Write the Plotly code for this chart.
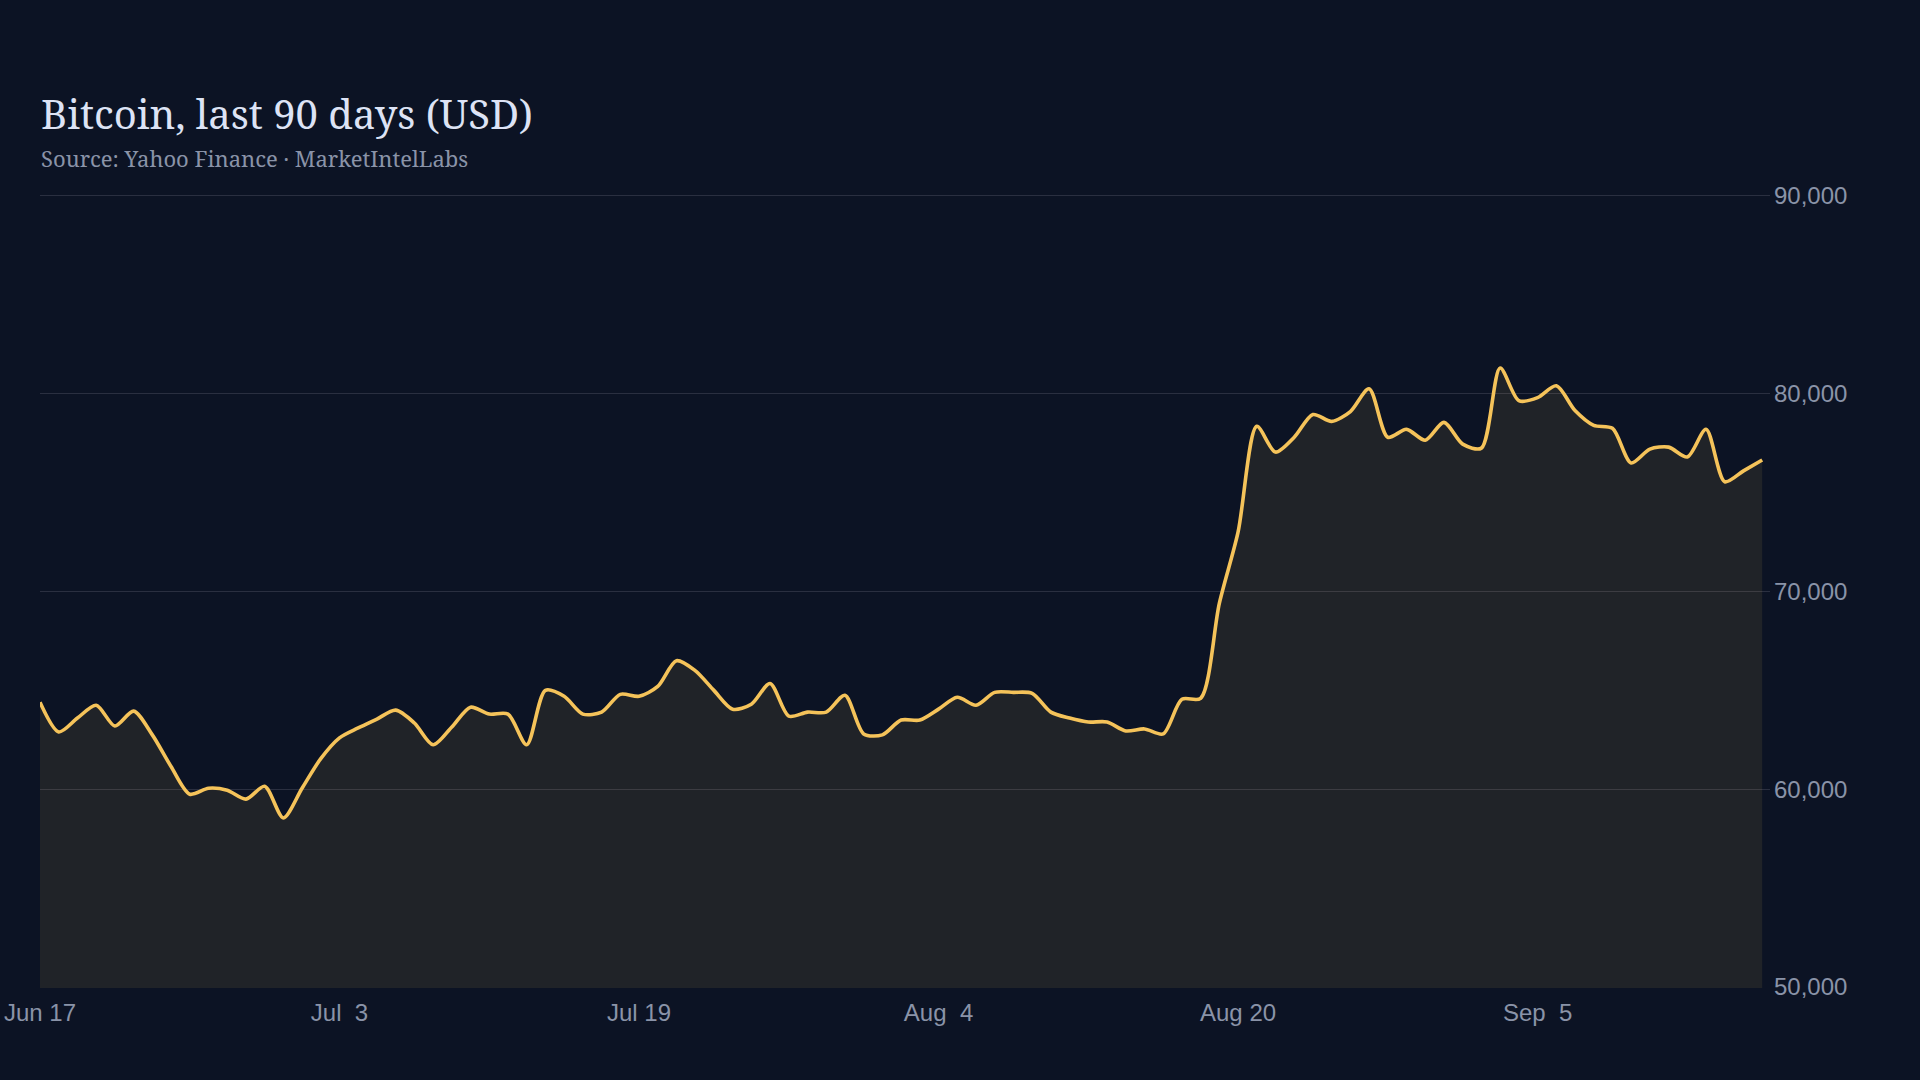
import pandas as pd
import plotly.graph_objects as go

start_date = "2024-06-17"
prices = [
    64400, 62900, 63600, 64250, 63200, 63950, 62750, 61150, 59750, 60050,
    59950, 59500, 60150, 58550, 60050, 61550, 62600, 63100, 63550, 64000,
    63350, 62250, 63150, 64150, 63800, 63800, 62250, 65000, 64700, 63800,
    63900, 64800, 64700, 65200, 66500, 66000, 65000, 64050, 64300, 65350,
    63700, 63900, 63900, 64750, 62800, 62750, 63500, 63500, 64050, 64650,
    64250, 64900, 64900, 64850, 63900, 63600, 63400, 63400, 62950, 63050,
    62800, 64550, 64600, 69400, 73000, 78350, 77050, 77800, 78950, 78600,
    79100, 80250, 77800, 78200, 77650, 78550, 77450, 77250, 81300, 79650,
    79800, 80400, 79150, 78400, 78250, 76500, 77200, 77300, 76800, 78200,
    75550, 76100, 76650,
]
dates = pd.date_range(start_date, periods=len(prices), freq="D")

x_tick_dates = ["2024-06-17", "2024-07-03", "2024-07-19", "2024-08-04", "2024-08-20", "2024-09-05"]
y_ticks = [50000, 60000, 70000, 80000, 90000]

title_text = "Bitcoin, last 90 days (USD)"
subtitle_text = "Source: Yahoo Finance · MarketIntelLabs"

BG = "#0c1324"
LINE = "#f5c35a"
FILL = "rgba(245,195,90,0.09)"
GRID = "#2a2f40"
TICK = "#8a93a8"

fig = go.Figure()
fig.add_trace(go.Scatter(
    x=dates, y=prices, mode="lines",
    line=dict(color=LINE, width=3.6, shape="spline", smoothing=0.8),
    fill="tozeroy", fillcolor=FILL,
    hoverinfo="skip", showlegend=False,
))

fig.update_layout(
    width=1920, height=1080,
    paper_bgcolor=BG, plot_bgcolor=BG,
    margin=dict(l=40, r=150, t=194, b=92),
    font=dict(family="Liberation Sans, Arial, sans-serif", color=TICK, size=24),
    xaxis=dict(
        type="date", automargin=False,
        range=[dates[0], dates[-1] + pd.Timedelta(hours=10)],
        tickvals=x_tick_dates, tickformat="%b %e",
        showgrid=False, zeroline=False, showline=False, ticks="",
        ticklabelstandoff=8,
        tickfont=dict(size=24, color=TICK),
    ),
    yaxis=dict(
        range=[49950, 90100], side="right", automargin=False,
        tickvals=y_ticks, tickformat=",d",
        showgrid=True, gridcolor=GRID, gridwidth=1.2,
        zeroline=False, showline=False, ticks="",
        ticklabelstandoff=3,
        tickfont=dict(size=24, color=TICK),
    ),
    annotations=[
        dict(text=title_text, xref="paper", yref="paper", x=0, y=1,
             xanchor="left", yanchor="bottom", yshift=51, xshift=-1, showarrow=False,
             font=dict(family="Noto Serif, DejaVu Serif, serif", size=40, color="#dde3f5")),
        dict(text=subtitle_text, xref="paper", yref="paper", x=0, y=1,
             xanchor="left", yanchor="bottom", yshift=19, xshift=-1, showarrow=False,
             font=dict(family="Noto Serif, DejaVu Serif, serif", size=22, color="#8a93a8")),
    ],
)

fig.write_html(
    "out.html",
    config={"displayModeBar": False},
    post_script="document.body.style.margin='0';document.body.style.padding='0';document.body.style.background='#0c1324';",
)
